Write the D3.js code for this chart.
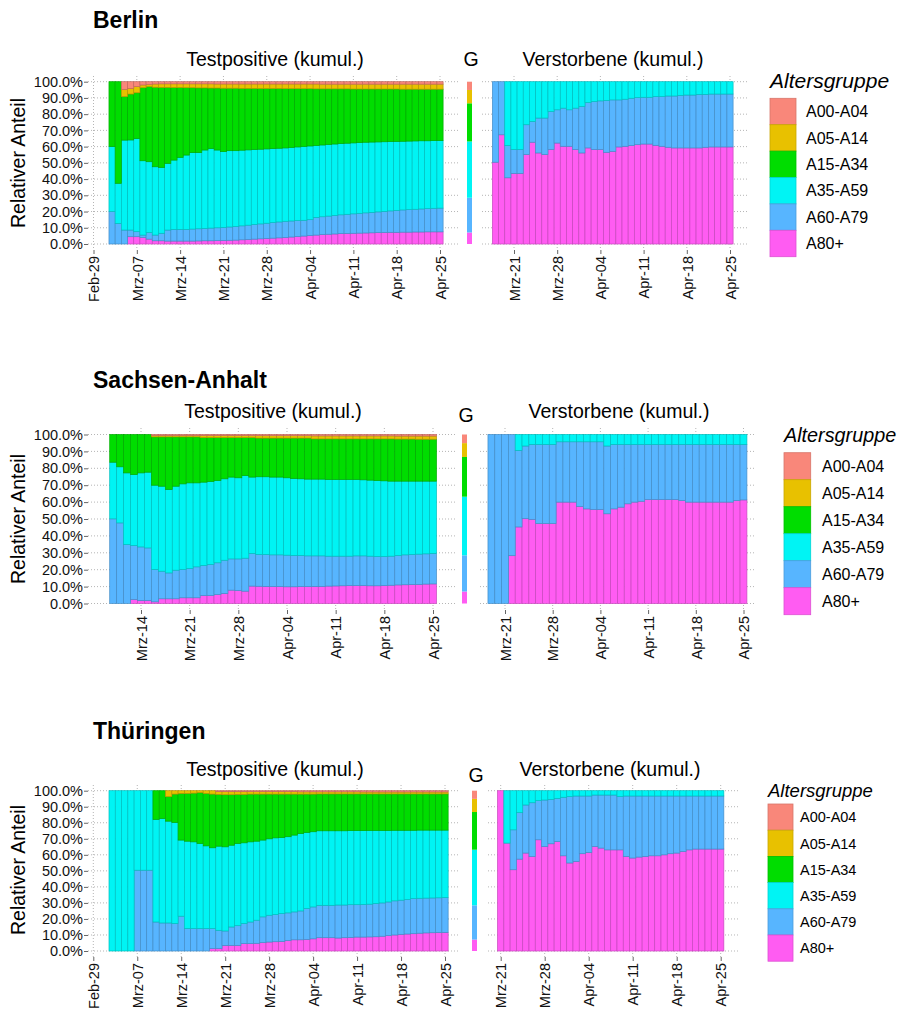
<!DOCTYPE html>
<html><head><meta charset="utf-8">
<script src="https://cdn.jsdelivr.net/npm/d3@7"></script>
<style>body{margin:0;background:#fff}svg{font-family:"Liberation Sans",Arial,sans-serif}</style>
</head><body>
<svg id="c" width="900" height="1010"></svg>
<script>
// ---------- categories ----------
const GROUPS = ["A00-A04","A05-A14","A15-A34","A35-A59","A60-A79","A80+"];
const COLORS = ["#F9877A","#E8C100","#00DD00","#00F4F4","#57B5FF","#FF5CF2"];
const TICKS_ALL = ["2020-02-29","2020-03-07","2020-03-14","2020-03-21","2020-03-28","2020-04-04","2020-04-11","2020-04-18","2020-04-25"];
const TICKLABELS_ALL = ["Feb-29","Mrz-07","Mrz-14","Mrz-21","Mrz-28","Apr-04","Apr-11","Apr-18","Apr-25"];
const TICKS_FROM14 = ["2020-03-14","2020-03-21","2020-03-28","2020-04-04","2020-04-11","2020-04-18","2020-04-25"];
const TICKLABELS_FROM14 = ["Mrz-14","Mrz-21","Mrz-28","Apr-04","Apr-11","Apr-18","Apr-25"];
const TICKS_FROM21 = ["2020-03-21","2020-03-28","2020-04-04","2020-04-11","2020-04-18","2020-04-25"];
const TICKLABELS_FROM21 = ["Mrz-21","Mrz-28","Apr-04","Apr-11","Apr-18","Apr-25"];
const Y_TICKS = [0,10,20,30,40,50,60,70,80,90,100];

// overall population shares (G), order A00..A80+
const G_SHARE = [5.1, 8.2, 23.5, 34.7, 21.4, 7.1];

// cumulative shares (%) from the oldest group upward: C80 = A80+, C60 = A60+, C35 = A35+, C15 = A15+, C05 = A05+
// ---- Berlin, Testpositive, daily from 2020-03-03 ----
const BE_POS_START = "2020-03-03";
const BE_POS_C80 = [0,0,0,4.5,4.5,4,3,2,2,1.8, 1.8,1.8,1.8,1.8,1.9,2,2,2.1,2.2,2.3, 2.4,2.6,2.8,3,3.2,3.4,3.6,3.8,4,4.3, 4.6,4.9,5.2,5.5,5.8,6,6.2,6.4,6.5,6.6, 6.7,6.8,6.9,7,7.1,7.2,7.2,7.3,7.3,7.4, 7.4,7.5,7.5,7.5];
const BE_POS_C60 = [20,12.7,8.6,8.6,7.6,5.5,7,5.5,6.6,8.6, 9,9,9,9.2,9.4,9.6,9.8,10,10.2,10.5, 10.8,11.2,11.6,12,12.4,12.8,13.2,13.6,14,14.2, 14.4,14.6,15,16.4,16.8,17.2,17.6,18,18.3,18.6, 18.9,19.2,19.5,19.8,20.1,20.4,20.7,21,21.2,21.4, 21.6,21.8,22,22.1];
const BE_POS_C35 = [60,37.4,64,64.1,65,51.3,50.7,47.6,47.2,49.7, 51.7,53.4,54.8,56.3,56.3,57.9,58.9,57.9,56.9,57.5, 57.5,57.8,58,58.2,58.4,58.6,58.8,59,59.2,59.5, 59.8,60.1,60.4,60.7,61,61.3,61.6,61.9,62.1,62.3, 62.5,62.7,62.8,62.9,63,63.1,63.2,63.3,63.4,63.5, 63.6,63.6,63.7,63.7];
const BE_POS_C15 = [100,100,90.8,92.4,93.2,96.3,97,96.6,96.5,96.5, 96.4,96.4,96.3,96.3,96.2,96.2,96.1,96.1,96,96, 96,95.9,95.9,95.9,95.8,95.8,95.8,95.8,95.7,95.7, 95.7,95.7,95.7,95.6,95.6,95.6,95.6,95.6,95.6,95.5, 95.5,95.5,95.5,95.5,95.5,95.5,95.5,95.4,95.4,95.4, 95.4,95.4,95.4,95.4];
const BE_POS_C05 = [100,100,95.3,95.9,97,98,98.4,98.6,98.7,98.7, 98.7,98.7,98.7,98.7,98.7,98.7,98.7,98.6,98.6,98.6, 98.6,98.6,98.6,98.6,98.6,98.6,98.6,98.6,98.6,98.6, 98.6,98.6,98.6,98.6,98.5,98.5,98.5,98.5,98.5,98.5, 98.5,98.5,98.5,98.5,98.5,98.5,98.5,98.5,98.5,98.5, 98.5,98.5,98.5,98.5];
// ---- Berlin, Verstorbene, daily from 2020-03-18 ----
const BE_DEATH_START = "2020-03-18";
const BE_DEATH_C80 = [50.4,67.3,40.8,43.5,43.5,55.1,62.7,56.1,55.1,58.2, 62.2,60.2,60.2,58.2,56.1,59.2,58.2,58.2,56.5,57.1, 59.8,60.2,60.6,61.2,61.6,61.6,60.8,60.2,59.6,59.2, 59.2,59.2,59.2,59.2,59.6,59.8,59.8,59.8,59.8];
const BE_DEATH_C60 = [100,100,60.6,58.2,58.2,73.5,75.5,77.6,77.6,81.6, 82.7,83.7,82.7,83.7,84.7,87.1,87.8,88.2,88.4,88.8, 88.8,89.2,89.8,90.2,90.4,90.4,90.8,90.8,91.2,91.2, 91.6,91.8,91.8,92.2,92.2,92.4,92.4,92.4,92.4];
const BE_DEATH_C35 = [100,100,100,100,100,100,100,100,100,100, 100,100,100,100,100,100,100,100,100,100, 100,100,100,100,100,100,100,100,100,100, 100,100,100,100,100,100,100,100,100];

// ---- Sachsen-Anhalt, Testpositive, daily from 2020-03-10 ----
const SA_POS_START = "2020-03-10";
const SA_POS_C80 = [0,0,0,2.4,1.8,1.8,1,2.8,2.8,2.8, 3.4,3.4,3.4,4.7,4.7,5.3,5.9,7.9,7.7,7.3, 10.3,10.2,10.1,10,10,9.9,9.9,10,10,10.1, 10.1,10.3,10.4,10.5,10.6,10.6,10.6,10.5,10.5,10.6, 10.8,11,11.1,11.2,11.3,11.5,11.6];
const SA_POS_C60 = [50.1,47.7,34.9,34.3,33.5,32.9,20.1,19.1,18.1,19.7, 20.1,20.7,21.7,22.5,23.1,24.1,25.6,26.4,26.4,26.8, 29.6,29,29,28.8,28.8,28.6,28.4,28.4,28.2,28.2, 28.2,28,28,28,28,28.2,28.2,28,27.8,27.8, 28,28.4,28.8,29,29.2,29.4,29.6];
const SA_POS_C35 = [83.6,80.9,77.3,76.3,77.3,77.7,70,69.4,67.5,69.4, 70.8,71.4,71.4,71.8,72.2,72.8,73.8,74.8,74.4,75.7, 74.8,75,75,74.8,74.8,74.4,74,73.8,73.6,73.6, 73.6,73.4,73.4,73.4,73.4,73.4,73.2,73,72.8,72.6, 72.4,72.4,72.4,72.4,72.4,72.4,72.4];
const SA_POS_C15 = [100,100,100,100,100,100,98.6,98.6,98.6,98.6, 98.6,98.6,98.6,98.2,98.2,98.2,98.2,98.2,98.2,98.2, 98.2,97.9,97.9,97.9,97.9,97.9,97.9,97.9,97.9,97.4, 97.4,97.4,97.4,97.4,97.4,97.4,97.4,97.4,97.4,97.4, 97.4,97.3,97.3,97.3,97.2,97.2,97.2];
const SA_POS_C05 = [100,100,100,100,100,100,99.4,99.4,99.4,99.4, 99.4,99.4,99.4,99.4,99.4,99.4,99.4,99.4,99.4,99.4, 99.3,99.3,99.3,99.3,99.3,99.3,99.3,99.3,99.3,99.2, 99.2,99.2,99.2,99.2,99.2,99.2,99.2,99.2,99.2,99.2, 99.2,99.1,99.1,99.1,99.1,99.1,99.1];
// ---- Sachsen-Anhalt, Verstorbene, daily from 2020-03-19 ----
const SA_DEATH_START = "2020-03-19";
const SA_DEATH_C80 = [0,0,0,28.3,45.3,50.2,49.8,47.3,47.3,47.3, 60,60,60,57.4,56,55.6,55.6,53.1,56,57, 59,60,60.5,61.5,61.5,61.5,61.5,61.5,60.9,60, 60,60,60,60,60,60,60.9,61.3];
const SA_DEATH_C60 = [100,100,100,100,90.6,93.2,94.1,94.1,94.1,94.1, 95.7,95.7,95.7,95.7,95.7,95.7,95.7,93.2,94.1,94.1, 94.1,94.1,94.1,94.1,94.1,94.1,94.1,94.1,94.1,94.1, 94.1,94.1,94.1,94.1,94.1,94.1,94.1,94.1];
const SA_DEATH_C35 = [100,100,100,100,100,100,100,100,100,100, 100,100,100,100,100,100,100,100,100,100, 100,100,100,100,100,100,100,100,100,100, 100,100,100,100,100,100,100,100];

// ---- Thüringen, Testpositive, daily from 2020-03-03 ----
const TH_POS_START = "2020-03-03";
const TH_POS_C80 = [0,0,0,0,0,0,0,0,0,0, 0,0,0,0,0,0,1.5,1.5,3.5,3.5, 3.5,4.6,4.6,4.8,5.2,5.6,5.8,6,6.5,7, 7,7.2,7.6,8.3,8.3,8.3,8.1,8.3,8.5,8.7, 8.7,8.8,8.9,9.2,9.6,10,10.4,10.6,10.8,11.1, 11.3,11.4,11.5,11.6];
const TH_POS_C60 = [0,0,0,0,50.4,50.4,50.4,18.1,17.5,17.5, 17.1,21.7,14,14,14,14,14,12.9,12.5,15, 15.8,17.1,18.1,19.2,21.3,22.3,22.7,23.3,23.8,24.4, 25,26.5,27.5,28.5,28.5,28.5,28.7,28.7,28.9,28.9, 29,29.2,29.6,30,30.6,31.3,31.7,32.1,32.7,32.9, 33,33.1,33.2,33.3];
const TH_POS_C35 = [100,100,100,100,100,100,100,82.1,82.7,81, 80.2,69.2,68.5,68.1,67.1,65.6,64.4,65.4,65,66, 67.1,67.5,68.1,68.5,69.2,70,70.6,70.8,71.3,72.3, 73.3,74,74.4,75,75,75,75,75,75.1,75.1, 75.1,75.2,75.2,75.2,75.2,75.3,75.3,75.3,75.3,75.4, 75.4,75.4,75.4,75.4];
const TH_POS_C15 = [100,100,100,100,100,100,100,100,100,96.3, 97.9,98.3,98.3,98.5,98.8,98.3,97.9,97.7,97.5,97.5, 97.7,97.7,97.9,97.9,97.9,97.9,97.9,97.9,97.9,97.9, 97.9,97.9,97.9,98,98,98,98,98,98,98, 98,98,98,98,98,98,98,98,98,98, 98,98,98,98];
const TH_POS_C05 = [100,100,100,100,100,100,100,100,100,100, 100,100,100,100,100,100,100,99.4,99.4,99.4, 99.4,99.4,99.4,99.4,99.4,99.4,99.4,99.4,99.4,99.4, 99.3,99.3,99.3,99.3,99.3,99.3,99.3,99.3,99.3,99.3, 99.2,99.2,99.2,99.2,99.2,99.2,99.2,99.2,99.2,99.2, 99.2,99.2,99.2,99.2];
// ---- Thüringen, Verstorbene, daily from 2020-03-21 ----
const TH_DEATH_START = "2020-03-21";
const TH_DEATH_C80 = [100,67.3,50.7,57.3,61.1,59,69.4,65.2,66.9,68.3, 59.4,54.9,55.9,60.7,61.5,65.2,64.2,63.1,63.1,63.1, 59,58,58.6,59,59.4,59.4,60,60.7,61.1,62.1, 63.1,63.6,63.6,63.6,63.6,63.6];
const TH_DEATH_C60 = [100,67.3,75.6,86.3,91.1,92.5,93.8,94.2,94.6,95.2, 95.9,96.3,96.7,96.7,96.7,97.3,97.3,97.3,97.3,96.3, 96.7,96.7,96.7,96.7,96.7,96.7,96.7,96.7,96.7,96.7, 96.7,96.7,96.7,96.7,96.7,96.7];
const TH_DEATH_C35 = [100,100,100,100,100,100,100,100,100,100, 100,100,100,100,100,100,100,100,100,100, 100,100,100,100,100,100,100,100,100,100, 100,100,100,100,100,100];

// ---------- helpers ----------
const parse = d3.timeParse("%Y-%m-%d");
const FONT = '"Liberation Sans", Arial, sans-serif';
const colorOf = g => COLORS[GROUPS.indexOf(g)];
const STACK_KEYS = ["A80+","A60-A79","A35-A59","A15-A34","A05-A14","A00-A04"];

function buildRows(start, c80, c60, c35, c15, c05){
  const s = parse(start);
  return c80.map((v,i)=>{
    const k35 = c35 ? c35[i] : 100, k15 = c15 ? c15[i] : k35, k05 = c05 ? c05[i] : k15;
    return {date: d3.timeDay.offset(s, i),
      "A80+": v, "A60-A79": c60[i]-v, "A35-A59": k35-c60[i],
      "A15-A34": k15-k35, "A05-A14": k05-k15, "A00-A04": 100-k05};
  });
}

const svg = d3.select("#c");

function drawPanel(g, p, sec){
  const x = d3.scaleTime()
    .domain([parse(p.anchors[0][0]), parse(p.anchors[1][0])])
    .range([p.anchors[0][1], p.anchors[1][1]]);
  const y = d3.scaleLinear().domain([0,100]).range([sec.yBot, sec.yTop]);
  const grid = g.append("g");
  grid.selectAll("line.h").data(Y_TICKS).join("line")
    .attr("x1", p.gx0).attr("x2", p.gx1).attr("y1", d=>y(d)).attr("y2", d=>y(d))
    .attr("stroke","#b5b5b5").attr("stroke-dasharray","1,2");
  grid.selectAll("line.v").data(p.ticks.map(parse)).join("line")
    .attr("x1", d=>x(d)).attr("x2", d=>x(d)).attr("y1", sec.gy0).attr("y2", sec.gy1)
    .attr("stroke","#b5b5b5").attr("stroke-dasharray","1,2");

  const stacked = d3.stack().keys(STACK_KEYS)(p.rows);
  g.append("g").selectAll("g").data(stacked).join("g")
    .attr("fill", s=>colorOf(s.key))
    .attr("stroke", s=>d3.color(colorOf(s.key)).darker(0.7))
    .attr("stroke-width", 0.7)
    .selectAll("rect").data(s=>s.filter(d=>d[1]-d[0] > 0.01)).join("rect")
    .attr("x", d=>x(d3.timeHour.offset(d.data.date,-12)))
    .attr("width", d=>x(d3.timeHour.offset(d.data.date,12)) - x(d3.timeHour.offset(d.data.date,-12)))
    .attr("y", d=>y(d[1]))
    .attr("height", d=>y(d[0]) - y(d[1]));

  const xa = g.append("g").attr("transform", `translate(0,${sec.gy1})`)
    .call(d3.axisBottom(x).tickValues(p.ticks.map(parse)).tickSize(4)
      .tickFormat((d,i)=>p.labels[i]));
  xa.select(".domain").remove();
  xa.selectAll(".tick line").attr("stroke","#666");
  xa.selectAll("text").attr("transform","rotate(-90)").attr("x",-6).attr("y",0)
    .attr("dy","0.36em").style("text-anchor","end")
    .style("font-family",FONT).style("font-size","14.5px").attr("fill","#111");

  if (p.yAxis){
    const ya = g.append("g").attr("transform", `translate(${p.gx0},0)`)
      .call(d3.axisLeft(y).tickValues(Y_TICKS).tickSize(4).tickPadding(1)
        .tickFormat(d=>d.toFixed(1)+"%"));
    ya.select(".domain").remove();
    ya.selectAll(".tick line").attr("stroke","#666");
    ya.selectAll("text").style("font-family",FONT).style("font-size","14.5px").attr("fill","#111");
  }
}

function drawSection(sec){
  const g = svg.append("g");
  g.append("text").attr("x",sec.title.x).attr("y",sec.title.y).text(sec.title.text)
    .style("font-weight","bold").style("font-size","23px").style("font-family",FONT);
  const sub = (o,t)=>g.append("text").attr("x",o.x).attr("y",o.y).attr("text-anchor","middle")
    .style("font-size","19.5px").style("font-family",FONT).text(t);
  sub(sec.subPos,"Testpositive (kumul.)");
  sub(sec.subG,"G");
  sub(sec.subDeath,"Verstorbene (kumul.)");
  g.append("text").attr("transform",`translate(${sec.ylab.x},${sec.ylab.y}) rotate(-90)`)
    .attr("text-anchor","middle").attr("dy","0.35em")
    .style("font-size","19.5px").style("font-family",FONT).text("Relativer Anteil");

  drawPanel(g, sec.left, sec);
  drawPanel(g, sec.right, sec);

  // G bar (overall distribution)
  const y = d3.scaleLinear().domain([0,100]).range([sec.yBot, sec.yTop]);
  const gRow = {}; GROUPS.forEach((k,i)=>gRow[k]=G_SHARE[i]);
  const gs = d3.stack().keys(STACK_KEYS)([gRow]);
  g.append("g").selectAll("rect").data(gs).join("rect")
    .attr("x", sec.gBar.x).attr("width", sec.gBar.w)
    .attr("y", s=>y(s[0][1])).attr("height", s=>y(s[0][0])-y(s[0][1]))
    .attr("fill", s=>colorOf(s.key));

  // legend
  const L = sec.legend;
  g.append("text").attr("x",L.x).attr("y",L.titleY).text("Altersgruppe")
    .style("font-style","italic").style("font-size",L.titleSize+"px").style("font-family",FONT);
  const items = g.append("g").selectAll("g").data(GROUPS).join("g")
    .attr("transform",(d,i)=>`translate(${L.x},${L.y0 + i*L.h})`);
  items.append("rect").attr("width",L.w).attr("height",L.h)
    .attr("fill",(d,i)=>COLORS[i]).attr("stroke",(d,i)=>d3.color(COLORS[i]).darker(0.4)).attr("stroke-width",0.8);
  items.append("text").attr("x",L.labelX-L.x).attr("y",L.h/2).attr("dy","0.36em")
    .style("font-size",L.labelSize+"px").style("font-family",FONT).text(d=>d);
}

// ---------- sections ----------
drawSection({
  title:{text:"Berlin",x:93,y:28},
  subPos:{x:275,y:66}, subG:{x:471,y:66}, subDeath:{x:613,y:66},
  ylab:{x:18,y:163},
  yTop:81.7, yBot:244, gy0:76, gy1:250,
  left:{gx0:88,gx1:460,anchors:[["2020-02-29",93.5],["2020-04-25",440]],ticks:TICKS_ALL,labels:TICKLABELS_ALL,yAxis:true,
    rows:buildRows(BE_POS_START,BE_POS_C80,BE_POS_C60,BE_POS_C35,BE_POS_C15,BE_POS_C05)},
  right:{gx0:482,gx1:748,anchors:[["2020-03-21",514],["2020-04-25",730]],ticks:TICKS_FROM21,labels:TICKLABELS_FROM21,yAxis:false,
    rows:buildRows(BE_DEATH_START,BE_DEATH_C80,BE_DEATH_C60,BE_DEATH_C35)},
  gBar:{x:467,w:5},
  legend:{x:770,titleY:88,titleSize:21,y0:98.3,h:26.4,w:26,labelX:806,labelSize:16}
});
drawSection({
  title:{text:"Sachsen-Anhalt",x:93,y:388},
  subPos:{x:273,y:418}, subG:{x:466,y:422}, subDeath:{x:619,y:418},
  ylab:{x:18,y:519},
  yTop:434.5, yBot:603.5, gy0:428, gy1:610,
  left:{gx0:88,gx1:455,anchors:[["2020-03-14",141],["2020-04-25",433]],ticks:TICKS_FROM14,labels:TICKLABELS_FROM14,yAxis:true,
    rows:buildRows(SA_POS_START,SA_POS_C80,SA_POS_C60,SA_POS_C35,SA_POS_C15,SA_POS_C05)},
  right:{gx0:480,gx1:755,anchors:[["2020-03-21",505],["2020-04-25",743.5]],ticks:TICKS_FROM21,labels:TICKLABELS_FROM21,yAxis:false,
    rows:buildRows(SA_DEATH_START,SA_DEATH_C80,SA_DEATH_C60,SA_DEATH_C35)},
  gBar:{x:462,w:5},
  legend:{x:784,titleY:442,titleSize:19.8,y0:452.7,h:27,w:26.7,labelX:822,labelSize:16}
});
drawSection({
  title:{text:"Thüringen",x:93,y:739},
  subPos:{x:275,y:776}, subG:{x:476,y:782}, subDeath:{x:610,y:776},
  ylab:{x:18,y:870},
  yTop:790.7, yBot:951, gy0:785, gy1:957,
  left:{gx0:88,gx1:460,anchors:[["2020-02-29",93.3],["2020-04-25",445]],ticks:TICKS_ALL,labels:TICKLABELS_ALL,yAxis:true,
    rows:buildRows(TH_POS_START,TH_POS_C80,TH_POS_C60,TH_POS_C35,TH_POS_C15,TH_POS_C05)},
  right:{gx0:488,gx1:738,anchors:[["2020-03-21",500.7],["2020-04-25",720.7]],ticks:TICKS_FROM21,labels:TICKLABELS_FROM21,yAxis:false,
    rows:buildRows(TH_DEATH_START,TH_DEATH_C80,TH_DEATH_C60,TH_DEATH_C35)},
  gBar:{x:472,w:5},
  legend:{x:768,titleY:797,titleSize:18.5,y0:804,h:26.2,w:25,labelX:800,labelSize:14.5}
});
</script>
</body></html>
